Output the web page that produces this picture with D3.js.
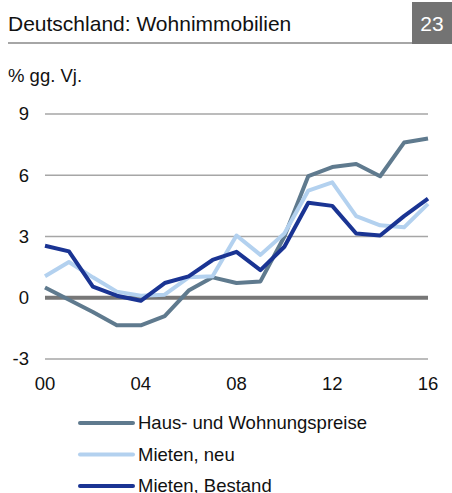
<!DOCTYPE html>
<meta charset="utf-8">
<title>Deutschland: Wohnimmobilien</title>
<style>
body {
  margin: 0;
  background-color: #fff;
  font-family: 'Liberation Sans', Arial, sans-serif;
}
text { fill: #111; }
</style>
<body>
<script src="https://d3js.org/d3.v7.min.js"></script>
<script>
// years 2000..2016
var years = d3.range(2000, 2017);
var haus   = [0.5, -0.1, -0.7, -1.35, -1.35, -0.9, 0.35, 1.0, 0.72, 0.8, 3.0, 5.96, 6.4, 6.55, 5.95, 7.6, 7.8];
var neu    = [1.05, 1.75, 1.0, 0.3, 0.1, 0.15, 1.0, 1.05, 3.05, 2.1, 3.15, 5.25, 5.65, 4.0, 3.55, 3.45, 4.6];
var bestand = [2.55, 2.27, 0.55, 0.1, -0.15, 0.72, 1.05, 1.85, 2.25, 1.35, 2.5, 4.65, 4.5, 3.15, 3.05, 4.0, 4.85];
var yTicks = [-3, 0, 3, 6, 9];
var xTicks = [2000, 2004, 2008, 2012, 2016];

var series = [
  {name: "Haus- und Wohnungspreise", values: haus, color: "#5f7a8e"},
  {name: "Mieten, neu", values: neu, color: "#b3d1ef"},
  {name: "Mieten, Bestand", values: bestand, color: "#1a3493"}
];

var width = 452, height = 493;

var svg = d3.select("body").append("svg")
    .attr("width", width)
    .attr("height", height);

// header
svg.append("text")
    .attr("x", 8).attr("y", 31)
    .attr("font-size", 21)
    .text("Deutschland: Wohnimmobilien");
svg.append("line")
    .attr("x1", 8).attr("x2", 412)
    .attr("y1", 43).attr("y2", 43)
    .attr("stroke", "#888").attr("stroke-width", 1.5);
svg.append("rect")
    .attr("x", 412).attr("y", 2)
    .attr("width", 40).attr("height", 42)
    .attr("fill", "#737373");
svg.append("text")
    .attr("x", 432).attr("y", 31)
    .attr("text-anchor", "middle")
    .attr("font-size", 21)
    .style("fill", "#fff")
    .text("23");

svg.append("text")
    .attr("x", 8).attr("y", 82)
    .attr("font-size", 18.5)
    .text("% gg. Vj.");

// scales
var x = d3.scaleLinear().domain([2000, 2016]).range([45, 428]);
var y = d3.scaleLinear().domain([-3, 9]).range([359, 114]);

var g = svg.append("g");

// gridlines
g.selectAll("line.grid")
    .data(yTicks.filter(function(d) { return d !== 0; }))
    .enter().append("line")
    .attr("class", "grid")
    .attr("x1", x(2000)).attr("x2", x(2016))
    .attr("y1", function(d) { return y(d); })
    .attr("y2", function(d) { return y(d); })
    .attr("stroke", "#a6a6a6").attr("stroke-width", 1.3);

// y labels
g.selectAll("text.ylab")
    .data(yTicks)
    .enter().append("text")
    .attr("class", "ylab")
    .attr("x", 29)
    .attr("y", function(d) { return y(d); })
    .attr("dy", "0.35em")
    .attr("text-anchor", "end")
    .attr("font-size", 18.5)
    .text(function(d) { return d; });

// x labels
g.selectAll("text.xlab")
    .data(xTicks)
    .enter().append("text")
    .attr("class", "xlab")
    .attr("x", function(d) { return x(d); })
    .attr("y", 390)
    .attr("text-anchor", "middle")
    .attr("font-size", 18.5)
    .text(function(d) { return String(d % 100).padStart(2, "0"); });

// zero line
g.append("line")
    .attr("x1", x(2000)).attr("x2", x(2016))
    .attr("y1", y(0)).attr("y2", y(0))
    .attr("stroke", "#777").attr("stroke-width", 4);

// series lines
var line = d3.line()
    .x(function(d, i) { return x(years[i]); })
    .y(function(d) { return y(d); });

g.selectAll("path.series")
    .data(series)
    .enter().append("path")
    .attr("class", "series")
    .attr("d", function(d) { return line(d.values); })
    .attr("fill", "none")
    .attr("stroke", function(d) { return d.color; })
    .attr("stroke-width", 4)
    .attr("stroke-linejoin", "round");

// legend
var leg = svg.append("g")
    .selectAll("g")
    .data(series)
    .enter().append("g")
    .attr("transform", function(d, i) { return "translate(80," + (423 + i * 31.5) + ")"; });

leg.append("line")
    .attr("x1", 0).attr("x2", 53)
    .attr("stroke", function(d) { return d.color; })
    .attr("stroke-width", 4)
    .attr("stroke-linecap", "round");

leg.append("text")
    .attr("x", 58)
    .attr("dy", "0.35em")
    .attr("font-size", 18.5)
    .text(function(d) { return d.name; });
</script>
</body>
</html>
